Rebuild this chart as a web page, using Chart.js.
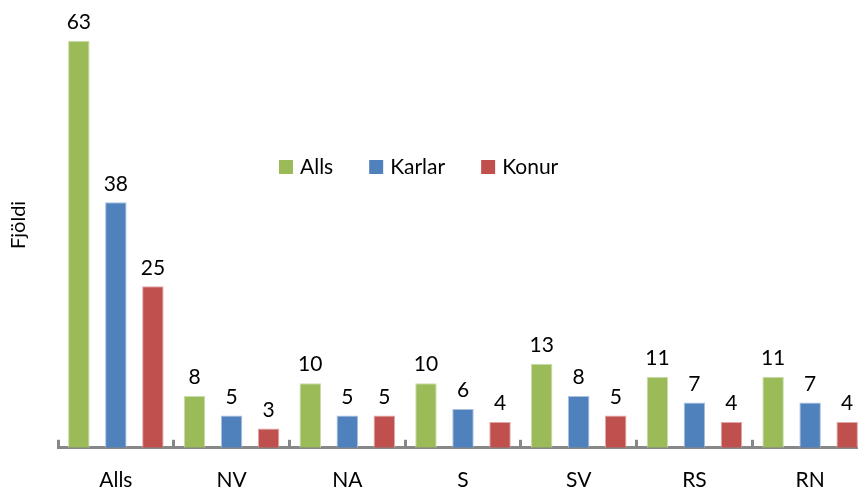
<!DOCTYPE html>
<html>
<head>
<meta charset="utf-8">
<script src="https://cdn.jsdelivr.net/npm/chart.js@4/dist/chart.umd.min.js"></script>
<style>
  html, body { margin: 0; padding: 0; background: #fff; overflow: hidden; }
  /* plot runs a little past the right and bottom edges, as in the original */
  #wrap { width: 868px; height: 521px; position: relative; }
</style>
</head>
<body>
<div id="wrap"><canvas id="chart"></canvas></div>
<script>
var categories = ["Alls", "NV", "NA", "S", "SV", "RS", "RN"];
var alls = [63, 8, 10, 10, 13, 11, 11];
var karlar = [38, 5, 5, 6, 8, 7, 7];
var konur = [25, 3, 5, 4, 5, 4, 4];
var seriesNames = ["Alls", "Karlar", "Konur"];
var seriesColors = ["#9BBB59", "#4F81BD", "#C0504D"];

var fontFamily = "Lato, 'Liberation Sans', sans-serif";

// numbers above each bar
const barLabels = {
    id: "barLabels",
    afterDatasetsDraw(chart) {
        const ctx = chart.ctx;
        ctx.save();
        ctx.font = "21px " + fontFamily;
        ctx.fillStyle = "#000";
        ctx.textAlign = "center";
        ctx.textBaseline = "bottom";
        chart.data.datasets.forEach(function (ds, i) {
            chart.getDatasetMeta(i).data.forEach(function (bar, j) {
                ctx.fillText(ds.data[j], bar.x, bar.y - 8);
            });
        });
        ctx.restore();
    }
};

// legend sits inside the plot, in the middle
const midLegend = {
    id: "midLegend",
    afterDraw(chart) {
        const ctx = chart.ctx;
        ctx.save();
        ctx.font = "21px " + fontFamily;
        ctx.textBaseline = "middle";
        let x = 279;
        const y = 167;
        chart.data.datasets.forEach(function (ds) {
            ctx.fillStyle = ds.backgroundColor;
            ctx.fillRect(x, y - 7, 14, 14);
            ctx.fillStyle = "#000";
            ctx.fillText(ds.label, x + 21, y);
            x += 21 + ctx.measureText(ds.label).width + 36;
        });
        ctx.restore();
    }
};

let ctx = document.getElementById("chart").getContext("2d");

new Chart(ctx, {
    type: "bar",
    data: {
        labels: categories,
        datasets: [
            { label: seriesNames[0], data: alls, backgroundColor: seriesColors[0], borderColor: "#c9dcab", borderWidth: 1 },
            { label: seriesNames[1], data: karlar, backgroundColor: seriesColors[1], borderColor: "#a9c1de", borderWidth: 1 },
            { label: seriesNames[2], data: konur, backgroundColor: seriesColors[2], borderColor: "#dfa8a6", borderWidth: 1 }
        ]
    },
    options: {
        responsive: true,
        maintainAspectRatio: false,
        animation: false,
        layout: { padding: { top: 2, left: 0, right: 0, bottom: 0 } },
        datasets: {
            bar: { categoryPercentage: 0.96, barPercentage: 0.58 }
        },
        scales: {
            x: {
                grid: {
                    display: true,
                    drawOnChartArea: false,
                    drawTicks: true,
                    tickLength: -8,
                    color: "#878787",
                    lineWidth: 3
                },
                border: { display: true, color: "#878787", width: 3 },
                ticks: {
                    color: "#000",
                    padding: 28,
                    font: { family: fontFamily, size: 21 }
                }
            },
            y: {
                min: 0,
                max: 69,
                grid: { display: false },
                border: { display: false },
                ticks: { display: false },
                title: {
                    display: true,
                    text: "Fjöldi",
                    color: "#000",
                    font: { family: fontFamily, size: 20 },
                    padding: { top: 7, bottom: 19 }
                }
            }
        },
        plugins: {
            legend: { display: false },
            tooltip: { enabled: false }
        }
    },
    plugins: [barLabels, midLegend]
});
</script>
</body>
</html>
